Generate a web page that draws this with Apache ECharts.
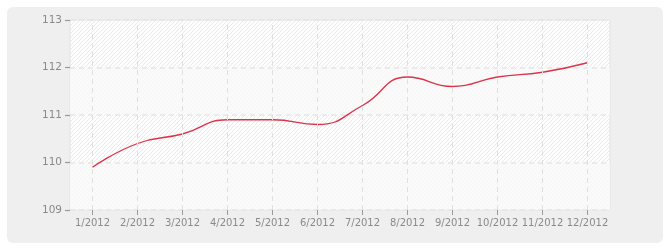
<!DOCTYPE html>
<html><head><meta charset="utf-8">
<script src="https://cdn.jsdelivr.net/npm/echarts@6/dist/echarts.min.js"></script>
<style>html,body{margin:0;padding:0;background:#fff}#c{width:670px;height:250px}</style>
</head><body><div id="c"></div>
<script>
var categories = ['1/2012','2/2012','3/2012','4/2012','5/2012','6/2012','7/2012','8/2012','9/2012','10/2012','11/2012','12/2012'];
var values = [109.9, 110.4, 110.6, 110.9, 110.9, 110.8, 111.2, 111.8, 111.6, 111.8, 111.9, 112.1];
var yTicks = [109, 110, 111, 112, 113];

function hatch(){
  var c = document.createElement('canvas');
  c.width = 4; c.height = 4;
  var g = c.getContext('2d');
  g.fillStyle = '#fefefe'; g.fillRect(0,0,4,4);
  g.fillStyle = '#eaeaea';
  for (var i=0;i<4;i++){ g.fillRect(i, 3-i, 1, 1); }
  return c;
}

var chart = echarts.init(document.getElementById('c'), null, {renderer:'canvas'});
chart.setOption({
  animation:false,
  backgroundColor:'#fff',
  graphic:[{type:'rect', z:-10, silent:true, shape:{x:7,y:7,width:656,height:236,r:6}, style:{fill:'#efefef'}}],
  grid:{left:70, right:60, top:20, bottom:40, show:true, backgroundColor:{image:hatch(), repeat:'repeat'}, borderColor:'#e3e3e3', borderWidth:1},
  xAxis:{
    type:'category', data:categories, boundaryGap:true,
    axisLine:{show:false},
    axisTick:{show:true, alignWithLabel:true, interval:0, length:5, lineStyle:{color:'#9a9a9a', width:1}},
    axisLabel:{color:'#8a8a8a', fontFamily:'DejaVu Sans', fontSize:10, margin:8, interval:0},
    splitLine:{show:false}
  },
  yAxis:{
    type:'value', min:yTicks[0], max:yTicks[yTicks.length-1], interval:1,
    axisLine:{show:false},
    axisTick:{show:true, length:5, lineStyle:{color:'#9a9a9a', width:1.2}},
    axisLabel:{color:'#8a8a8a', fontFamily:'DejaVu Sans', fontSize:10.5, margin:8},
    splitLine:{show:true, lineStyle:{color:'#e6e6e6', type:[5,4], width:1.5}},
    splitArea:{show:true, areaStyle:{color:['rgba(249,249,249,0.8)','rgba(255,255,255,0)']}}
  },
  series:[{
    type:'line', data:values, smooth:0.5, symbol:'none',
    lineStyle:{color:'#d9344b', width:1.3},
    markLine:{
      silent:true, symbol:['none','none'], label:{show:false},
      lineStyle:{color:'#e0e0e0', type:[5,4], width:1},
      data:categories.map(function(c){ return {xAxis:c}; })
    }
  }]
});
</script></body></html>
